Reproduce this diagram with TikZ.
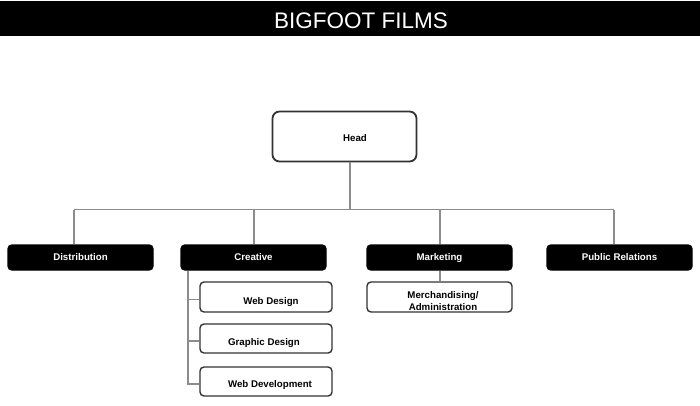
\documentclass[tikz,border=0pt]{standalone}
\usepackage{fontspec}
\setmainfont{Liberation Sans}
\begin{document}
\begin{tikzpicture}[x=1pt,y=-1pt,
  conn/.style={draw=black!45, line width=1.7pt},
  txt/.style={font=\fontsize{9.7}{12}\selectfont\bfseries, align=center},
  onetxt/.style={txt, inner sep=0pt, text height=7.5pt, text depth=1.5pt},
  boxbase/.style={rounded corners=4pt, line width=1.4pt, inner sep=0pt},
  darkbox/.style={boxbase, fill=black, draw=black, minimum width=145pt, minimum height=25pt, text=white, txt, text height=7.5pt, text depth=1.5pt},
  lightbox/.style={boxbase, fill=white, draw=black!80},
]
\useasboundingbox (0,0) rectangle (700,405);
\fill[black] (0,1) rectangle (700,35.5);
\node[text=white, font=\fontsize{22.5}{26}\selectfont, anchor=base, inner sep=0pt] (title) at (361,28) {BIGFOOT FILMS};

% head
\node[lightbox, rounded corners=7pt, line width=1.8pt, minimum width=144pt, minimum height=50pt] (head) at (344.5,136.5) {};
\node[txt, anchor=base, inner sep=0pt] (headtext) at (355,141.5) {Head};

% level 2
\node[darkbox] (dist) at (80.5,257.5) {Distribution};
\node[darkbox] (creative) at (253.5,257.5) {Creative};
\node[darkbox] (marketing) at (439.5,257.5) {Marketing};
\node[darkbox] (pr) at (619.5,257.5) {Public Relations};

% level 3
\node[lightbox, minimum width=145pt, minimum height=30pt] (merch) at (439.5,297) {};
\node[txt, inner sep=0pt] (merchtext) at (443,301) {Merchandising/\\Administration};

\node[lightbox, minimum width=132pt, minimum height=30pt] (wd) at (266,297) {};
\node[onetxt] (wdtext) at (271,301) {Web Design};
\node[lightbox, minimum width=132pt, minimum height=29pt] (gd) at (266,338.5) {};
\node[onetxt] (gdtext) at (264,342) {Graphic Design};
\node[lightbox, minimum width=132pt, minimum height=29pt] (wdev) at (266,381.5) {};
\node[onetxt] (wdevtext) at (270,384.5) {Web Development};

% connectors
\coordinate (bus) at (350,209.5);
\coordinate (dA) at (74,209.5);
\coordinate (dB) at (254,209.5);
\coordinate (dC) at (440,209.5);
\coordinate (dD) at (614,209.5);
\coordinate (sp) at (188,270);
\draw[conn] (head.south -| bus) -- (bus);
\draw[conn] (dA) -- (dD);
\draw[conn] (dA) -- (dist.north -| dA);
\draw[conn] (dB) -- (creative.north -| dB);
\draw[conn] (dC) -- (marketing.north -| dC);
\draw[conn] (dD) -- (pr.north -| dD);
\draw[conn] (marketing.south -| dC) -- (merch.north -| dC);
\draw[conn] (creative.south -| sp) |- ([yshift=-2.5pt]wdev.west);
\draw[conn] ([yshift=-2.5pt]wd.west -| sp) -- ([yshift=-2.5pt]wd.west);
\draw[conn] ([yshift=-2.5pt]gd.west -| sp) -- ([yshift=-2.5pt]gd.west);
\end{tikzpicture}
\end{document}
